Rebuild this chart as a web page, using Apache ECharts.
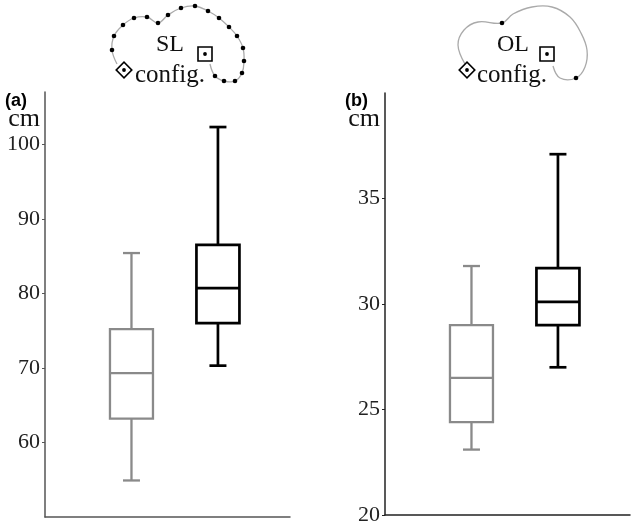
<!DOCTYPE html>
<html>
<head>
<meta charset="utf-8">
<script src="https://cdn.jsdelivr.net/npm/echarts@6/dist/echarts.min.js"></script>
<style>
html,body{margin:0;padding:0;background:#fff;}
#chart{width:641px;height:526px;}
</style>
</head>
<body>
<div id="chart"></div>
<script>
// ---- data (min, Q1, median, Q3, max) ----
const slGrey  = [54.9, 63.2, 69.3, 75.2, 85.4];
const slBlack = [70.3, 76.0, 80.7, 86.5, 102.3];
const olGrey  = [23.1, 24.4, 26.5, 29.0, 31.8];
const olBlack = [27.0, 29.0, 30.1, 31.7, 37.1];
const slTicks = [60, 70, 80, 90, 100];
const olTicks = [20, 25, 30, 35];
const panelLabels = ['(a)', '(b)'];
const iconTitles = ['SL', 'OL'];
const unitLabel = 'cm';

// ---- layout / style ----
const SLOTS = [6, 12];            // x slot of grey / black box
const BOX_COLORS = ['#8a8a8a', '#000000'];
const BOX_LW = [2.3, 2.7];
const serif = '"Liberation Serif", "DejaVu Serif", serif';
const sans = '"Liberation Sans", Arial, sans-serif';

function rows(boxes) {
  return boxes.map((b, i) => [SLOTS[i]].concat(b));
}

function renderBox(params, api) {
  const x = api.value(0);
  const p = [1, 2, 3, 4, 5].map(i => api.coord([x, api.value(i)]));
  const cx = p[0][0];
  const hw = 21.5, cw = 8.5;
  const color = BOX_COLORS[params.dataIndex];
  const lw = BOX_LW[params.dataIndex];
  const st = { stroke: color, lineWidth: lw, fill: null };
  return {
    type: 'group',
    children: [
      { type: 'line', shape: { x1: cx, y1: p[4][1], x2: cx, y2: p[3][1] }, style: st },
      { type: 'line', shape: { x1: cx, y1: p[0][1], x2: cx, y2: p[1][1] }, style: st },
      { type: 'line', shape: { x1: cx - cw, y1: p[4][1], x2: cx + cw, y2: p[4][1] }, style: st },
      { type: 'line', shape: { x1: cx - cw, y1: p[0][1], x2: cx + cw, y2: p[0][1] }, style: st },
      { type: 'rect', shape: { x: cx - hw, y: p[3][1], width: 2 * hw, height: p[1][1] - p[3][1] },
        style: { stroke: color, lineWidth: lw, fill: '#fff' } },
      { type: 'line', shape: { x1: cx - hw, y1: p[2][1], x2: cx + hw, y2: p[2][1] }, style: st }
    ]
  };
}

function xAx(gi, color) {
  return {
    type: 'value', gridIndex: gi, min: 0, max: 17,
    axisLine: { show: true, lineStyle: { color: color, width: 1.5 } },
    axisTick: { show: false }, axisLabel: { show: false }, splitLine: { show: false }
  };
}
function yAx(gi, min, max, interval, ticks, color) {
  return {
    type: 'value', gridIndex: gi, min: min, max: max, interval: interval,
    axisLine: { show: true, lineStyle: { color: color, width: 1.5 } },
    axisTick: { show: true, length: 3, customValues: ticks, lineStyle: { color: color, width: 1 } },
    axisLabel: { customValues: ticks, margin: 5, color: '#222', fontFamily: serif, fontSize: 22 },
    splitLine: { show: false }
  };
}

// ---- icons (decoration) ----
function icon(ox, dotted, title) {
  const g = [];
  let pts, dots;
  if (dotted) {
    pts = [[117,64],[112,50],[114,36],[123,25],[134,18],[147,17],[158,23],[168,15],[181,8],[195,6],[208,11],[219,18],[229,27],[237,36],[243,48],[244,61],[242,73],[235,81],[224,81],[215,76],[210,64]];
    dots = pts.slice(1, pts.length - 1);
  } else {
    pts = [[125,64],[118,45],[124,30],[138,22],[162,23],[173,14],[192,7],[212,7],[230,17],[241,33],[247,50],[245,67],[236,78],[220,78],[213,66]];
    dots = [[162,23],[236,78]];
  }
  pts = pts.map(p => [p[0] + ox, p[1]]);
  g.push({ type: 'polyline', shape: { points: pts, smooth: 0.4 }, style: { stroke: '#aaa', lineWidth: 1.3, fill: null }, z: 1 });
  dots.forEach(d => g.push({ type: 'circle', shape: { cx: d[0] + ox, cy: d[1], r: 2.3 }, style: { fill: '#000' }, z: 2 }));
  // title
  g.push({ type: 'text', x: (dotted ? 170 : 173) + ox, y: 45, style: { text: title, font: '24px ' + serif, fill: '#111', align: 'center', verticalAlign: 'middle' }, z: 3 });
  g.push({ type: 'text', x: (dotted ? 170 : 172) + ox, y: 75, style: { text: 'config.', font: '25px ' + serif, fill: '#111', align: 'center', verticalAlign: 'middle' }, z: 3 });
  // diamond
  const dx = (dotted ? 124 : 127) + ox, dy = 70;
  g.push({ type: 'rect', x: dx, y: dy, rotation: Math.PI / 4, shape: { x: -5.5, y: -5.5, width: 11, height: 11 }, style: { stroke: '#000', lineWidth: 1.6, fill: '#fff' }, z: 4 });
  g.push({ type: 'circle', shape: { cx: dx, cy: dy, r: 1.9 }, style: { fill: '#000' }, z: 5 });
  // square
  const sx = (dotted ? 205 : 207) + ox, sy = 54;
  g.push({ type: 'rect', shape: { x: sx - 7, y: sy - 7, width: 14, height: 14 }, style: { stroke: '#000', lineWidth: 1.6, fill: '#fff' }, z: 4 });
  g.push({ type: 'circle', shape: { cx: sx, cy: sy, r: 1.9 }, style: { fill: '#000' }, z: 5 });
  return g;
}

const graphics = []
  .concat(icon(0, true, iconTitles[0]))
  .concat(icon(340, false, iconTitles[1]))
  .concat([
    { type: 'text', x: 5, y: 101, style: { text: panelLabels[0], font: 'bold 18px ' + sans, fill: '#000', verticalAlign: 'middle' } },
    { type: 'text', x: 345, y: 101, style: { text: panelLabels[1], font: 'bold 18px ' + sans, fill: '#000', verticalAlign: 'middle' } },
    { type: 'text', x: 40, y: 119, style: { text: unitLabel, font: '26px ' + serif, fill: '#111', align: 'right', verticalAlign: 'middle' } },
    { type: 'text', x: 380, y: 119, style: { text: unitLabel, font: '26px ' + serif, fill: '#111', align: 'right', verticalAlign: 'middle' } }
  ]);

const chart = echarts.init(document.getElementById('chart'), null, { renderer: 'canvas' });
chart.setOption({
  animation: false,
  backgroundColor: '#fff',
  grid: [
    { left: 45, top: 92, width: 245, height: 425 },
    { left: 385, top: 93, width: 245, height: 425 }
  ],
  xAxis: [xAx(0, '#555'), xAx(1, '#222')],
  yAxis: [yAx(0, 50, 107, 10, slTicks, '#555'), yAx(1, 20, 40, 5, olTicks, '#222')],
  series: [
    { type: 'custom', xAxisIndex: 0, yAxisIndex: 0, renderItem: renderBox, data: rows([slGrey, slBlack]), encode: { x: 0, y: [1, 2, 3, 4, 5] } },
    { type: 'custom', xAxisIndex: 1, yAxisIndex: 1, renderItem: renderBox, data: rows([olGrey, olBlack]), encode: { x: 0, y: [1, 2, 3, 4, 5] } }
  ],
  graphic: graphics
});
</script>
</body>
</html>
